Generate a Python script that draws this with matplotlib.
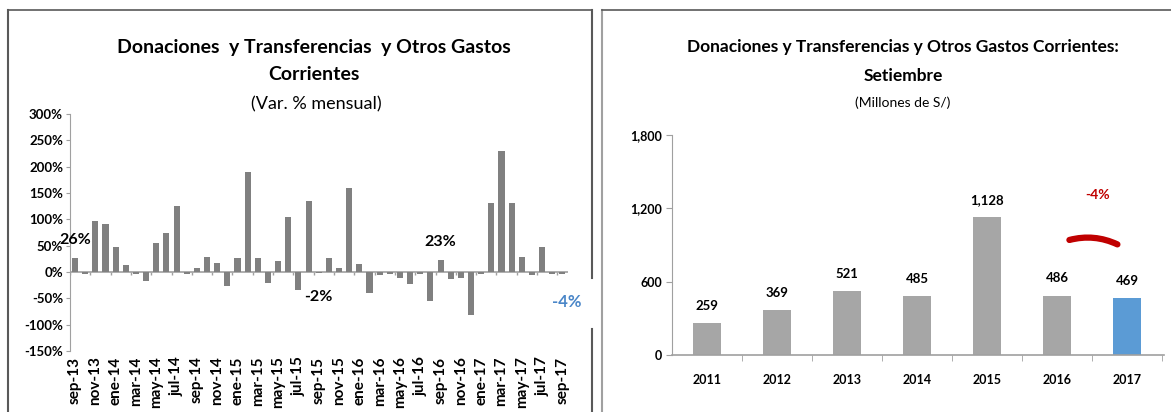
import matplotlib
matplotlib.use('Agg')
import matplotlib.pyplot as plt
from matplotlib.lines import Line2D
import numpy as np

# --- Data ---
meses = ["sep-13", "oct-13", "nov-13", "dic-13", "ene-14", "feb-14", "mar-14", "abr-14",
         "may-14", "jun-14", "jul-14", "ago-14", "sep-14", "oct-14", "nov-14", "dic-14",
         "ene-15", "feb-15", "mar-15", "abr-15", "may-15", "jun-15", "jul-15", "ago-15",
         "sep-15", "oct-15", "nov-15", "dic-15", "ene-16", "feb-16", "mar-16", "abr-16",
         "may-16", "jun-16", "jul-16", "ago-16", "sep-16", "oct-16", "nov-16", "dic-16",
         "ene-17", "feb-17", "mar-17", "abr-17", "may-17", "jun-17", "jul-17", "ago-17",
         "sep-17"]
var_mensual = [26, -4, 96, 91, 48, 13, -3, -17,
               56, 75, 126, -4, 7, 29, 18, -26,
               26, 189, 26, -20, 21, 104, -34, 135,
               -2, 26, 7, 159, 15, -39, -6, -3,
               -11, -22, -3, -55, 23, -14, -11, -82,
               -3, 131, 230, 131, 29, -6, 48, -3,
               -4]
# labelled months (index)
etiquetas_idx = [0, 24, 36, 48]

anios = ["2011", "2012", "2013", "2014", "2015", "2016", "2017"]
setiembre = [259, 369, 521, 485, 1128, 486, 469]
var_anual = "-4%"

GRIS_IZQ = "#808080"
GRIS_DER = "#a6a6a6"
AZUL = "#5b9bd5"
ROJO = "#c00000"
EJE = "#a0a0a0"

FONT = ['Lato', 'DejaVu Sans']
plt.rcParams['font.family'] = FONT

W, H = 1171, 412
fig = plt.figure(figsize=(W / 100, H / 100), dpi=100)

def fx(px):
    return px / W

def fy(py):
    return 1 - py / H

# --- Panel frames ---
fig.add_artist(Line2D([fx(8), fx(8)], [fy(10), 0], color="#595959", lw=1.5))
fig.add_artist(Line2D([fx(8), fx(592)], [fy(10), fy(10)], color="#595959", lw=1.2))
fig.add_artist(Line2D([fx(592), fx(592)], [fy(10), fy(278)], color="#595959", lw=1.5))
fig.add_artist(Line2D([fx(592), fx(592)], [fy(329), 0], color="#595959", lw=1.5))
fig.add_artist(Line2D([fx(602), fx(602)], [fy(10), 0], color="#a0a0a0", lw=1.5))
fig.add_artist(Line2D([fx(602), 1], [fy(10), fy(10)], color="#595959", lw=1.2))

# --- Left chart: monthly variation ---
ax1 = fig.add_axes([fx(70), fy(351), fx(568 - 70), (351 - 114) / H])
x = np.arange(len(meses))
ax1.bar(x, var_mensual, width=0.6, color=GRIS_IZQ, zorder=2)
ax1.set_xlim(-0.5, len(meses) - 0.5 + 0.05)
ax1.set_ylim(-150, 300)
ax1.set_yticks(np.arange(-150, 301, 50))
ax1.set_yticklabels([f"{v}%" for v in range(-150, 301, 50)], fontsize=9.5,
                    fontweight='bold')
ax1.set_xticks(x[::2])
ax1.set_xticklabels(meses[::2], rotation=90, fontsize=11, fontweight='bold', va='top')
ax1.tick_params(axis='x', length=0, pad=4)
ax1.tick_params(axis='y', length=3, color=EJE, pad=2)
for s in ['top', 'right', 'bottom']:
    ax1.spines[s].set_visible(False)
ax1.spines['left'].set_color(EJE)
ax1.axhline(0, color=EJE, lw=1.2, zorder=1)
ax1.vlines(np.arange(-0.5, len(meses), 2), -5, 0, color=EJE, lw=1, zorder=1)

etiq_pos = {0: 61, 24: -47, 36: 57, 48: -57}
for i in etiquetas_idx:
    txt = f"{var_mensual[i]}%"
    if i == len(meses) - 1:
        ax1.text(i + 0.4, etiq_pos[i], txt, ha='center', va='center', fontsize=12,
                 fontweight='bold', color="#4a86c8", clip_on=False, zorder=5,
                 bbox=dict(facecolor='white', edgecolor='none', pad=6))
    else:
        ax1.text(i, etiq_pos[i], txt, ha='center', va='center', fontsize=11.5,
                 fontweight='bold', color='black', zorder=5)

fig.text(fx(314), fy(47), "Donaciones  y Transferencias  y Otros Gastos", ha='center',
         va='center', fontsize=14, fontweight='bold')
fig.text(fx(314), fy(75), "Corrientes", ha='center', va='center', fontsize=14,
         fontweight='bold')
fig.text(fx(316), fy(104), "(Var. % mensual)", ha='center', va='center', fontsize=13)

# --- Right chart: September levels ---
ax2 = fig.add_axes([fx(672), fy(355), fx(1164 - 672), (355 - 135) / H])
xa = np.arange(len(anios))
colores = [GRIS_DER] * (len(anios) - 1) + [AZUL]
ax2.bar(xa, setiembre, width=0.4, color=colores, zorder=2)
ax2.set_xlim(-0.5, len(anios) - 0.5 + 0.03)
ax2.set_ylim(0, 1800)
ax2.set_yticks([0, 600, 1200, 1800])
ax2.set_yticklabels([f"{v:,}" for v in [0, 600, 1200, 1800]], fontsize=9,
                    fontweight='bold')
ax2.set_xticks(xa)
ax2.set_xticklabels(anios, fontsize=9, fontweight='bold')
ax2.set_xticks(np.arange(0.5, len(anios), 1), minor=True)
ax2.tick_params(axis='x', which='major', length=0, pad=14)
ax2.tick_params(axis='x', which='minor', length=4, color=EJE, direction='out')
ax2.tick_params(axis='y', length=4, color=EJE, pad=3)
for s in ['top', 'right']:
    ax2.spines[s].set_visible(False)
ax2.spines['left'].set_color(EJE)
ax2.spines['bottom'].set_color(EJE)
ax2.spines['bottom'].set_linewidth(1.2)

for i, v in enumerate(setiembre):
    ax2.text(i, v + 140, f"{v:,}", ha='center', va='center', fontsize=9.5,
             fontweight='bold')

ax2.annotate("", xy=(5.9, 895), xytext=(5.14, 935),
             arrowprops=dict(arrowstyle='-', color=ROJO, lw=4.5,
                             connectionstyle="arc3,rad=-0.2"))
ax2.text(5.58, 1310, var_anual, ha='center', va='center', fontsize=10,
         fontweight='bold', color=ROJO)

fig.text(fx(903), fy(47), "Donaciones y Transferencias y Otros Gastos Corrientes:",
         ha='center', va='center', fontsize=12.5, fontweight='bold')
fig.text(fx(903), fy(76), "Setiembre", ha='center', va='center', fontsize=12.5,
         fontweight='bold')
fig.text(fx(903), fy(103), "(Millones de S/)", ha='center', va='center', fontsize=10)

fig.savefig("out.png", dpi=100)
